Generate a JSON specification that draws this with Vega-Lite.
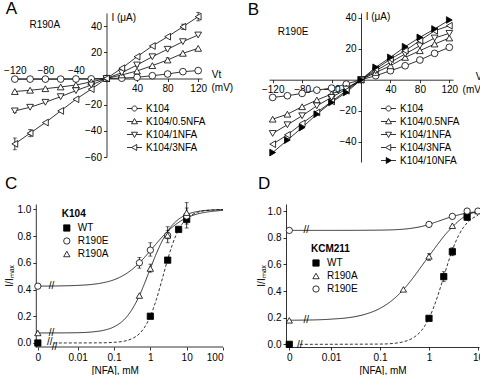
{
"$schema":"https://vega.github.io/schema/vega-lite/v6.json",
"background":"white",
"padding":{"left":3,"top":0,"right":0,"bottom":0},
"config":{"view":{"stroke":null},"font":"Liberation Sans",
"axis":{"labelFont":"Liberation Sans","labelFontSize":10,"labelColor":"black","domainColor":"black","tickColor":"black","grid":false,"tickSize":3,"domainWidth":0.8,"tickWidth":0.8,"titleFont":"Liberation Sans","titleFontSize":10,"titleFontWeight":"normal","titleColor":"black","labelPadding":2},
"legend":{"labelFont":"Liberation Sans","labelFontSize":10,"labelColor":"black","titleFont":"Liberation Sans","titleColor":"black"},
"text":{"font":"Liberation Sans","color":"black"}},
"datasets":{
"ivA":[
{"V":-120,"I":-0.5,"s":"K104"},{"V":-100,"I":-0.5,"s":"K104"},{"V":-80,"I":-0.5,"s":"K104"},{"V":-60,"I":-0.5,"s":"K104"},{"V":-40,"I":-0.4,"s":"K104"},{"V":-20,"I":-0.3,"s":"K104"},{"V":0,"I":0,"s":"K104"},{"V":20,"I":0.2,"s":"K104"},{"V":40,"I":0.9,"s":"K104"},{"V":60,"I":2.1,"s":"K104"},{"V":80,"I":3.4,"s":"K104"},{"V":100,"I":5.2,"s":"K104"},{"V":120,"I":6.0,"s":"K104"},
{"V":-120,"I":-10,"s":"K104/0.5NFA"},{"V":-100,"I":-9,"s":"K104/0.5NFA"},{"V":-80,"I":-7.8,"s":"K104/0.5NFA"},{"V":-60,"I":-6.5,"s":"K104/0.5NFA"},{"V":-40,"I":-5,"s":"K104/0.5NFA"},{"V":-20,"I":-2.6,"s":"K104/0.5NFA"},{"V":0,"I":0,"s":"K104/0.5NFA"},{"V":20,"I":2.7,"s":"K104/0.5NFA"},{"V":40,"I":5.7,"s":"K104/0.5NFA"},{"V":60,"I":9.8,"s":"K104/0.5NFA"},{"V":80,"I":14.1,"s":"K104/0.5NFA"},{"V":100,"I":19.2,"s":"K104/0.5NFA"},{"V":120,"I":23,"s":"K104/0.5NFA"},
{"V":-120,"I":-24.8,"s":"K104/1NFA"},{"V":-100,"I":-22,"s":"K104/1NFA"},{"V":-80,"I":-18.2,"s":"K104/1NFA"},{"V":-60,"I":-13.9,"s":"K104/1NFA"},{"V":-40,"I":-9.3,"s":"K104/1NFA"},{"V":-20,"I":-5,"s":"K104/1NFA"},{"V":0,"I":0,"s":"K104/1NFA"},{"V":20,"I":4.4,"s":"K104/1NFA"},{"V":40,"I":10.3,"s":"K104/1NFA"},{"V":60,"I":16.6,"s":"K104/1NFA"},{"V":80,"I":22.3,"s":"K104/1NFA"},{"V":100,"I":28.1,"s":"K104/1NFA"},{"V":120,"I":33.2,"s":"K104/1NFA"},
{"V":-120,"I":-50,"s":"K104/3NFA"},{"V":-100,"I":-41.8,"s":"K104/3NFA"},{"V":-80,"I":-33.7,"s":"K104/3NFA"},{"V":-60,"I":-24.8,"s":"K104/3NFA"},{"V":-40,"I":-15.9,"s":"K104/3NFA"},{"V":-20,"I":-8.2,"s":"K104/3NFA"},{"V":0,"I":0,"s":"K104/3NFA"},{"V":20,"I":7.8,"s":"K104/3NFA"},{"V":40,"I":16.6,"s":"K104/3NFA"},{"V":60,"I":24.8,"s":"K104/3NFA"},{"V":80,"I":31.9,"s":"K104/3NFA"},{"V":100,"I":39.5,"s":"K104/3NFA"},{"V":120,"I":47.2,"s":"K104/3NFA"}],
"errA":[{"V":-120,"lo":-54.5,"hi":-45.5},{"V":-100,"lo":-44.5,"hi":-39},{"V":100,"lo":37.5,"hi":41.5},{"V":120,"lo":44,"hi":50.5},{"V":-120,"lo":-26,"hi":-23.5},{"V":40,"lo":9,"hi":11.8},{"V":80,"lo":12.5,"hi":15.7}],
"ivB":[
{"V":-120,"I":-11.4,"s":"K104"},{"V":-100,"I":-10.3,"s":"K104"},{"V":-80,"I":-8.8,"s":"K104"},{"V":-60,"I":-6.7,"s":"K104"},{"V":-40,"I":-5.4,"s":"K104"},{"V":-20,"I":-2.8,"s":"K104"},{"V":0,"I":0,"s":"K104"},{"V":20,"I":2.6,"s":"K104"},{"V":40,"I":5.8,"s":"K104"},{"V":60,"I":9,"s":"K104"},{"V":80,"I":12.7,"s":"K104"},{"V":100,"I":17,"s":"K104"},{"V":120,"I":20.9,"s":"K104"},
{"V":-120,"I":-25.4,"s":"K104/0.5NFA"},{"V":-100,"I":-22.2,"s":"K104/0.5NFA"},{"V":-80,"I":-17.4,"s":"K104/0.5NFA"},{"V":-60,"I":-13.1,"s":"K104/0.5NFA"},{"V":-40,"I":-9.2,"s":"K104/0.5NFA"},{"V":-20,"I":-5.4,"s":"K104/0.5NFA"},{"V":0,"I":0,"s":"K104/0.5NFA"},{"V":20,"I":4.7,"s":"K104/0.5NFA"},{"V":40,"I":9,"s":"K104/0.5NFA"},{"V":60,"I":14.4,"s":"K104/0.5NFA"},{"V":80,"I":18.7,"s":"K104/0.5NFA"},{"V":100,"I":23,"s":"K104/0.5NFA"},{"V":120,"I":26.9,"s":"K104/0.5NFA"},
{"V":-120,"I":-34.6,"s":"K104/1NFA"},{"V":-100,"I":-29,"s":"K104/1NFA"},{"V":-80,"I":-23.2,"s":"K104/1NFA"},{"V":-60,"I":-16.8,"s":"K104/1NFA"},{"V":-40,"I":-11.4,"s":"K104/1NFA"},{"V":-20,"I":-6,"s":"K104/1NFA"},{"V":0,"I":0,"s":"K104/1NFA"},{"V":20,"I":5.8,"s":"K104/1NFA"},{"V":40,"I":11.2,"s":"K104/1NFA"},{"V":60,"I":16.6,"s":"K104/1NFA"},{"V":80,"I":21.9,"s":"K104/1NFA"},{"V":100,"I":26.9,"s":"K104/1NFA"},{"V":120,"I":29.9,"s":"K104/1NFA"},
{"V":-120,"I":-41.5,"s":"K104/3NFA"},{"V":-100,"I":-35.5,"s":"K104/3NFA"},{"V":-80,"I":-28.2,"s":"K104/3NFA"},{"V":-60,"I":-21.1,"s":"K104/3NFA"},{"V":-40,"I":-14,"s":"K104/3NFA"},{"V":-20,"I":-7.1,"s":"K104/3NFA"},{"V":0,"I":0,"s":"K104/3NFA"},{"V":20,"I":6.9,"s":"K104/3NFA"},{"V":40,"I":13.3,"s":"K104/3NFA"},{"V":60,"I":18.7,"s":"K104/3NFA"},{"V":80,"I":25.2,"s":"K104/3NFA"},{"V":100,"I":31.6,"s":"K104/3NFA"},{"V":120,"I":34.8,"s":"K104/3NFA"},
{"V":-120,"I":-46.9,"s":"K104/10NFA"},{"V":-100,"I":-38.9,"s":"K104/10NFA"},{"V":-80,"I":-30.8,"s":"K104/10NFA"},{"V":-60,"I":-22.2,"s":"K104/10NFA"},{"V":-40,"I":-14.6,"s":"K104/10NFA"},{"V":-20,"I":-8.2,"s":"K104/10NFA"},{"V":0,"I":0,"s":"K104/10NFA"},{"V":20,"I":8,"s":"K104/10NFA"},{"V":40,"I":14.4,"s":"K104/10NFA"},{"V":60,"I":21.3,"s":"K104/10NFA"},{"V":80,"I":27.3,"s":"K104/10NFA"},{"V":100,"I":32.7,"s":"K104/10NFA"},{"V":120,"I":38.5,"s":"K104/10NFA"}],
"ptC":[{"c":0.0008,"f":0,"s":"WT"},{"c":1,"f":0.2,"s":"WT"},{"c":3,"f":0.62,"s":"WT"},{"c":6,"f":0.85,"s":"WT"},{"c":10,"f":0.925,"s":"WT"},
{"c":0.0008,"f":0.425,"s":"R190E"},{"c":0.5,"f":0.6,"s":"R190E"},{"c":1,"f":0.695,"s":"R190E"},{"c":3,"f":0.805,"s":"R190E"},{"c":10,"f":0.95,"s":"R190E"},
{"c":0.0008,"f":0.075,"s":"R190A"},{"c":0.5,"f":0.355,"s":"R190A"},{"c":1,"f":0.557,"s":"R190A"},{"c":3,"f":0.805,"s":"R190A"},{"c":10,"f":0.975,"s":"R190A"}],
"errC":[{"c":0.5,"lo":0.56,"hi":0.64},{"c":1,"lo":0.65,"hi":0.75},{"c":3,"lo":0.75,"hi":0.87},{"c":10,"lo":0.86,"hi":1.05},{"c":1,"lo":0.53,"hi":0.59},{"c":3,"lo":0.78,"hi":0.84},{"c":10,"lo":0.94,"hi":1.01},{"c":10,"lo":0.89,"hi":0.96}],
"fitC":[
{"c":0.0022,"f":0,"s":"WT"},{"c":0.05,"f":0.0014,"s":"WT"},{"c":0.1,"f":0.005,"s":"WT"},{"c":0.2,"f":0.015,"s":"WT"},{"c":0.3,"f":0.03,"s":"WT"},{"c":0.5,"f":0.07,"s":"WT"},{"c":0.7,"f":0.119,"s":"WT"},{"c":1,"f":0.2,"s":"WT"},{"c":1.5,"f":0.335,"s":"WT"},{"c":2,"f":0.453,"s":"WT"},{"c":3,"f":0.625,"s":"WT"},{"c":4,"f":0.733,"s":"WT"},{"c":5,"f":0.802,"s":"WT"},{"c":7,"f":0.879,"s":"WT"},{"c":10,"f":0.931,"s":"WT"},{"c":15,"f":0.964,"s":"WT"},{"c":20,"f":0.978,"s":"WT"},{"c":30,"f":0.989,"s":"WT"},{"c":50,"f":0.995,"s":"WT"},{"c":100,"f":0.999,"s":"WT"},
{"c":0.0008,"f":0.4255,"s":"R190E"},{"c":0.003,"f":0.427,"s":"R190E"},{"c":0.01,"f":0.431,"s":"R190E"},{"c":0.03,"f":0.441,"s":"R190E"},{"c":0.05,"f":0.451,"s":"R190E"},{"c":0.1,"f":0.473,"s":"R190E"},{"c":0.2,"f":0.513,"s":"R190E"},{"c":0.3,"f":0.546,"s":"R190E"},{"c":0.5,"f":0.6,"s":"R190E"},{"c":0.7,"f":0.642,"s":"R190E"},{"c":1,"f":0.691,"s":"R190E"},{"c":1.5,"f":0.747,"s":"R190E"},{"c":2,"f":0.786,"s":"R190E"},{"c":3,"f":0.836,"s":"R190E"},{"c":5,"f":0.887,"s":"R190E"},{"c":7,"f":0.914,"s":"R190E"},{"c":10,"f":0.936,"s":"R190E"},{"c":20,"f":0.966,"s":"R190E"},{"c":30,"f":0.976,"s":"R190E"},{"c":50,"f":0.985,"s":"R190E"},{"c":100,"f":0.992,"s":"R190E"},
{"c":0.0008,"f":0.075,"s":"R190A"},{"c":0.003,"f":0.0755,"s":"R190A"},{"c":0.01,"f":0.077,"s":"R190A"},{"c":0.03,"f":0.085,"s":"R190A"},{"c":0.05,"f":0.094,"s":"R190A"},{"c":0.1,"f":0.121,"s":"R190A"},{"c":0.2,"f":0.181,"s":"R190A"},{"c":0.3,"f":0.243,"s":"R190A"},{"c":0.5,"f":0.355,"s":"R190A"},{"c":0.7,"f":0.449,"s":"R190A"},{"c":1,"f":0.557,"s":"R190A"},{"c":1.5,"f":0.676,"s":"R190A"},{"c":2,"f":0.75,"s":"R190A"},{"c":3,"f":0.836,"s":"R190A"},{"c":5,"f":0.908,"s":"R190A"},{"c":7,"f":0.939,"s":"R190A"},{"c":10,"f":0.961,"s":"R190A"},{"c":20,"f":0.984,"s":"R190A"},{"c":30,"f":0.991,"s":"R190A"},{"c":50,"f":0.995,"s":"R190A"},{"c":100,"f":0.998,"s":"R190A"}],
"ptD":[{"c":0.0014,"f":0,"s":"WT"},{"c":1,"f":0.195,"s":"WT"},{"c":2,"f":0.508,"s":"WT"},{"c":3,"f":0.695,"s":"WT"},{"c":6,"f":0.955,"s":"WT"},
{"c":0.0014,"f":0.18,"s":"R190A"},{"c":0.3,"f":0.4125,"s":"R190A"},{"c":1,"f":0.66,"s":"R190A"},{"c":3,"f":0.89,"s":"R190A"},{"c":6,"f":1.0,"s":"R190A"},{"c":10,"f":1.0,"s":"R190A"},
{"c":0.0014,"f":0.855,"s":"R190E"},{"c":1,"f":0.9,"s":"R190E"},{"c":3,"f":0.96,"s":"R190E"},{"c":6,"f":1.0,"s":"R190E"},{"c":10,"f":1.0,"s":"R190E"}],
"errD":[{"c":2,"lo":0.47,"hi":0.545},{"c":3,"lo":0.665,"hi":0.725},{"c":6,"lo":0.93,"hi":0.98},{"c":1,"lo":0.63,"hi":0.68}],
"fitD":[
{"c":0.0023,"f":0,"s":"WT"},{"c":0.1,"f":0.002,"s":"WT"},{"c":0.2,"f":0.008,"s":"WT"},{"c":0.3,"f":0.019,"s":"WT"},{"c":0.5,"f":0.054,"s":"WT"},{"c":0.7,"f":0.103,"s":"WT"},{"c":1,"f":0.195,"s":"WT"},{"c":1.5,"f":0.361,"s":"WT"},{"c":2,"f":0.508,"s":"WT"},{"c":3,"f":0.707,"s":"WT"},{"c":4,"f":0.815,"s":"WT"},{"c":5,"f":0.875,"s":"WT"},{"c":6,"f":0.911,"s":"WT"},{"c":8,"f":0.949,"s":"WT"},{"c":10,"f":0.968,"s":"WT"},
{"c":0.0014,"f":0.181,"s":"R190A"},{"c":0.003,"f":0.182,"s":"R190A"},{"c":0.01,"f":0.189,"s":"R190A"},{"c":0.03,"f":0.207,"s":"R190A"},{"c":0.05,"f":0.226,"s":"R190A"},{"c":0.1,"f":0.27,"s":"R190A"},{"c":0.2,"f":0.347,"s":"R190A"},{"c":0.3,"f":0.411,"s":"R190A"},{"c":0.5,"f":0.511,"s":"R190A"},{"c":0.7,"f":0.585,"s":"R190A"},{"c":1,"f":0.662,"s":"R190A"},{"c":1.5,"f":0.75,"s":"R190A"},{"c":2,"f":0.81,"s":"R190A"},{"c":3,"f":0.88,"s":"R190A"},{"c":4,"f":0.925,"s":"R190A"},{"c":6,"f":0.97,"s":"R190A"},{"c":10,"f":0.995,"s":"R190A"},
{"c":0.0014,"f":0.855,"s":"R190E"},{"c":0.01,"f":0.855,"s":"R190E"},{"c":0.1,"f":0.857,"s":"R190E"},{"c":0.2,"f":0.86,"s":"R190E"},{"c":0.3,"f":0.864,"s":"R190E"},{"c":0.5,"f":0.874,"s":"R190E"},{"c":0.7,"f":0.884,"s":"R190E"},{"c":1,"f":0.9,"s":"R190E"},{"c":1.5,"f":0.922,"s":"R190E"},{"c":2,"f":0.938,"s":"R190E"},{"c":3,"f":0.959,"s":"R190E"},{"c":4,"f":0.971,"s":"R190E"},{"c":6,"f":0.985,"s":"R190E"},{"c":10,"f":0.995,"s":"R190E"}]
},
"spacing":8,
"columns":1,
"align":"none",
"resolve":{"scale":{"shape":"independent","fill":"independent","strokeDash":"independent"},"legend":{"shape":"independent","fill":"independent","strokeDash":"independent"}},
"concat":[
{"spacing":13,
"resolve":{"scale":{"shape":"independent","fill":"independent"},"legend":{"shape":"independent","fill":"independent"}},
"hconcat":[
{"width":191,"height":144,
"layer":[
{"data":{"name":"ivA"},"mark":{"type":"line","color":"black","strokeWidth":0.8},
"encoding":{"x":{"field":"V","type":"quantitative","scale":{"domain":[-125,125],"nice":false,"zero":false},"axis":{"values":[-120,-80,-40,40,80,120],"offset":-78.5,"title":null,"labelPadding":{"condition":{"test":"datum.value < 0","value":-16.5},"value":2}}},
"y":{"field":"I","type":"quantitative","scale":{"domain":[-60,50],"nice":false,"zero":false},"axis":{"values":[-60,-40,-20,20,40],"offset":-95.5,"title":null,"minExtent":0,"maxExtent":0}},
"detail":{"field":"s"}}},
{"data":{"name":"errA"},"mark":{"type":"errorbar","color":"black","thickness":0.8,"ticks":{"size":4,"thickness":0.8,"color":"black"}},
"encoding":{"x":{"field":"V","type":"quantitative","scale":{"domain":[-125,125],"nice":false,"zero":false},"axis":{"values":[-120,-80,-40,40,80,120],"offset":-78.5,"title":null,"labelPadding":{"condition":{"test":"datum.value < 0","value":-16.5},"value":2}}},"y":{"field":"lo","type":"quantitative","scale":{"domain":[-60,50],"nice":false,"zero":false},"axis":{"values":[-60,-40,-20,20,40],"offset":-95.5,"title":null,"minExtent":0,"maxExtent":0}},"y2":{"field":"hi"}}},
{"data":{"name":"ivA"},"mark":{"type":"point","filled":true,"fill":"white","stroke":"black","strokeWidth":0.8,"size":45,"opacity":1},
"encoding":{"x":{"field":"V","type":"quantitative","scale":{"domain":[-125,125],"nice":false,"zero":false},"axis":{"values":[-120,-80,-40,40,80,120],"offset":-78.5,"title":null,"labelPadding":{"condition":{"test":"datum.value < 0","value":-16.5},"value":2}}},"y":{"field":"I","type":"quantitative","scale":{"domain":[-60,50],"nice":false,"zero":false},"axis":{"values":[-60,-40,-20,20,40],"offset":-95.5,"title":null,"minExtent":0,"maxExtent":0}},
"shape":{"field":"s","type":"nominal","scale":{"domain":["K104","K104/0.5NFA","K104/1NFA","K104/3NFA"],"range":["circle","triangle-up","triangle-down","triangle-left"]},"legend":null}}},
{"data":{"name":"ivA"},"mark":{"type":"point","filled":true,"stroke":"black","strokeWidth":0.8,"opacity":0},
"encoding":{"x":{"field":"V","type":"quantitative","scale":{"domain":[-125,125],"nice":false,"zero":false},"axis":{"values":[-120,-80,-40,40,80,120],"offset":-78.5,"title":null,"labelPadding":{"condition":{"test":"datum.value < 0","value":-16.5},"value":2}}},"y":{"field":"I","type":"quantitative","scale":{"domain":[-60,50],"nice":false,"zero":false},"axis":{"values":[-60,-40,-20,20,40],"offset":-95.5,"title":null,"minExtent":0,"maxExtent":0}},
"stroke":{"value":"black"},
"shape":{"field":"s","type":"nominal","scale":{"domain":["K104","K104/0.5NFA","K104/1NFA","K104/3NFA"],"range":["M-1.25,0H-0.42M0.42,0H1.25M-0.42,0A0.42,0.42,0,1,1,0.42,0A0.42,0.42,0,1,1,-0.42,0Z","M-1.25,0H-0.28M0.28,0H1.25M0,-0.5L0.5,0.38L-0.5,0.38Z","M-1.25,0H-0.28M0.28,0H1.25M0,0.5L0.5,-0.38L-0.5,-0.38Z","M-1.25,0H-0.5M0.38,0H1.25M-0.5,0L0.38,-0.5L0.38,0.5Z"]},
"legend":{"orient":"none","legendX":117,"legendY":89,"title":null,"symbolSize":144,"symbolStrokeColor":"black","symbolStrokeWidth":0.8,"symbolOpacity":1,"labelFontSize":10,"labelOffset":5,"rowPadding":1,"padding":0,
"encode":{"symbols":{"update":{"stroke":{"value":"black"},"strokeWidth":{"value":0.8},"opacity":{"value":1},"strokeOpacity":{"value":1}}}}}},
"fill":{"field":"s","type":"nominal","scale":{"domain":["K104","K104/0.5NFA","K104/1NFA","K104/3NFA"],"range":["white","white","white","white"]},
"legend":{"orient":"none","legendX":117,"legendY":89,"title":null,"symbolSize":144,"symbolStrokeColor":"black","symbolStrokeWidth":0.8,"symbolOpacity":1,"labelFontSize":10,"labelOffset":5,"rowPadding":1,"padding":0,
"encode":{"symbols":{"update":{"stroke":{"value":"black"},"strokeWidth":{"value":0.8},"opacity":{"value":1},"strokeOpacity":{"value":1}}}}}}}},
{"data":{"values":[{}]},"mark":{"type":"text","text":"A","fontSize":17,"align":"left","baseline":"middle"},"encoding":{"x":{"datum":-132,"type":"quantitative","scale":{"domain":[-125,125],"nice":false,"zero":false},"axis":{"values":[-120,-80,-40,40,80,120],"offset":-78.5,"title":null,"labelPadding":{"condition":{"test":"datum.value < 0","value":-16.5},"value":2}}},"y":{"datum":53,"type":"quantitative","scale":{"domain":[-60,50],"nice":false,"zero":false},"axis":{"values":[-60,-40,-20,20,40],"offset":-95.5,"title":null,"minExtent":0,"maxExtent":0}}}},
{"data":{"values":[{}]},"mark":{"type":"text","text":"R190A","fontSize":10,"align":"left","baseline":"middle"},"encoding":{"x":{"datum":-100.8,"type":"quantitative","scale":{"domain":[-125,125],"nice":false,"zero":false},"axis":{"values":[-120,-80,-40,40,80,120],"offset":-78.5,"title":null,"labelPadding":{"condition":{"test":"datum.value < 0","value":-16.5},"value":2}}},"y":{"datum":40.8,"type":"quantitative","scale":{"domain":[-60,50],"nice":false,"zero":false},"axis":{"values":[-60,-40,-20,20,40],"offset":-95.5,"title":null,"minExtent":0,"maxExtent":0}}}},
{"data":{"values":[{}]},"mark":{"type":"text","text":"I (μA)","fontSize":10,"align":"left","baseline":"middle"},"encoding":{"x":{"datum":6.5,"type":"quantitative","scale":{"domain":[-125,125],"nice":false,"zero":false},"axis":{"values":[-120,-80,-40,40,80,120],"offset":-78.5,"title":null,"labelPadding":{"condition":{"test":"datum.value < 0","value":-16.5},"value":2}}},"y":{"datum":45.8,"type":"quantitative","scale":{"domain":[-60,50],"nice":false,"zero":false},"axis":{"values":[-60,-40,-20,20,40],"offset":-95.5,"title":null,"minExtent":0,"maxExtent":0}}}},
{"data":{"values":[{}]},"mark":{"type":"text","text":"Vt","fontSize":10,"align":"center","baseline":"middle"},"encoding":{"x":{"datum":144,"type":"quantitative","scale":{"domain":[-125,125],"nice":false,"zero":false},"axis":{"values":[-120,-80,-40,40,80,120],"offset":-78.5,"title":null,"labelPadding":{"condition":{"test":"datum.value < 0","value":-16.5},"value":2}}},"y":{"datum":2.5,"type":"quantitative","scale":{"domain":[-60,50],"nice":false,"zero":false},"axis":{"values":[-60,-40,-20,20,40],"offset":-95.5,"title":null,"minExtent":0,"maxExtent":0}}}},
{"data":{"values":[{}]},"mark":{"type":"text","text":"(mV)","fontSize":10,"align":"left","baseline":"middle"},"encoding":{"x":{"datum":137.4,"type":"quantitative","scale":{"domain":[-125,125],"nice":false,"zero":false},"axis":{"values":[-120,-80,-40,40,80,120],"offset":-78.5,"title":null,"labelPadding":{"condition":{"test":"datum.value < 0","value":-16.5},"value":2}}},"y":{"datum":-7.3,"type":"quantitative","scale":{"domain":[-60,50],"nice":false,"zero":false},"axis":{"values":[-60,-40,-20,20,40],"offset":-95.5,"title":null,"minExtent":0,"maxExtent":0}}}}
],
"resolve":{"scale":{"shape":"independent","fill":"independent"}}},
{"width":184,"height":149,
"layer":[
{"data":{"name":"ivB"},"mark":{"type":"line","color":"black","strokeWidth":0.8},
"encoding":{"x":{"field":"V","type":"quantitative","scale":{"domain":[-125,125],"nice":false,"zero":false},"axis":{"values":[-120,-80,-40,40,80,120],"offset":-82.3,"title":null}},
"y":{"field":"I","type":"quantitative","scale":{"domain":[-53,43],"nice":false,"zero":false},"axis":{"values":[-40,-20,20,40],"offset":-92,"title":null,"minExtent":0,"maxExtent":0}},
"detail":{"field":"s"}}},
{"data":{"name":"ivB"},"mark":{"type":"point","filled":true,"stroke":"black","strokeWidth":0.8,"size":45,"opacity":1},
"encoding":{"x":{"field":"V","type":"quantitative","scale":{"domain":[-125,125],"nice":false,"zero":false},"axis":{"values":[-120,-80,-40,40,80,120],"offset":-82.3,"title":null}},"y":{"field":"I","type":"quantitative","scale":{"domain":[-53,43],"nice":false,"zero":false},"axis":{"values":[-40,-20,20,40],"offset":-92,"title":null,"minExtent":0,"maxExtent":0}},
"shape":{"field":"s","type":"nominal","scale":{"domain":["K104","K104/0.5NFA","K104/1NFA","K104/3NFA","K104/10NFA"],"range":["circle","triangle-up","triangle-down","triangle-left","triangle-right"]},"legend":null},
"fill":{"field":"s","type":"nominal","scale":{"domain":["K104","K104/0.5NFA","K104/1NFA","K104/3NFA","K104/10NFA"],"range":["white","white","white","white","black"]},"legend":null}}},
{"data":{"name":"ivB"},"mark":{"type":"point","filled":true,"stroke":"black","strokeWidth":0.8,"opacity":0},
"encoding":{"x":{"field":"V","type":"quantitative","scale":{"domain":[-125,125],"nice":false,"zero":false},"axis":{"values":[-120,-80,-40,40,80,120],"offset":-82.3,"title":null}},"y":{"field":"I","type":"quantitative","scale":{"domain":[-53,43],"nice":false,"zero":false},"axis":{"values":[-40,-20,20,40],"offset":-92,"title":null,"minExtent":0,"maxExtent":0}},
"stroke":{"value":"black"},
"shape":{"field":"s","type":"nominal","scale":{"domain":["K104","K104/0.5NFA","K104/1NFA","K104/3NFA","K104/10NFA"],"range":["M-1.25,0H-0.42M0.42,0H1.25M-0.42,0A0.42,0.42,0,1,1,0.42,0A0.42,0.42,0,1,1,-0.42,0Z","M-1.25,0H-0.28M0.28,0H1.25M0,-0.5L0.5,0.38L-0.5,0.38Z","M-1.25,0H-0.28M0.28,0H1.25M0,0.5L0.5,-0.38L-0.5,-0.38Z","M-1.25,0H-0.5M0.38,0H1.25M-0.5,0L0.38,-0.5L0.38,0.5Z","M-1.25,0H-0.38M0.5,0H1.25M0.5,0L-0.38,-0.5L-0.38,0.5Z"]},
"legend":{"orient":"none","legendX":113,"legendY":89,"title":null,"symbolSize":144,"symbolStrokeColor":"black","symbolStrokeWidth":0.8,"symbolOpacity":1,"labelFontSize":10,"labelOffset":5,"rowPadding":1,"padding":0,
"encode":{"symbols":{"update":{"stroke":{"value":"black"},"strokeWidth":{"value":0.8},"opacity":{"value":1},"strokeOpacity":{"value":1}}}}}},
"fill":{"field":"s","type":"nominal","scale":{"domain":["K104","K104/0.5NFA","K104/1NFA","K104/3NFA","K104/10NFA"],"range":["white","white","white","white","black"]},
"legend":{"orient":"none","legendX":113,"legendY":89,"title":null,"symbolSize":144,"symbolStrokeColor":"black","symbolStrokeWidth":0.8,"symbolOpacity":1,"labelFontSize":10,"labelOffset":5,"rowPadding":1,"padding":0,
"encode":{"symbols":{"update":{"stroke":{"value":"black"},"strokeWidth":{"value":0.8},"opacity":{"value":1},"strokeOpacity":{"value":1}}}}}}}},
{"data":{"values":[{}]},"mark":{"type":"text","text":"B","fontSize":17,"align":"left","baseline":"middle"},"encoding":{"x":{"datum":-154,"type":"quantitative","scale":{"domain":[-125,125],"nice":false,"zero":false},"axis":{"values":[-120,-80,-40,40,80,120],"offset":-82.3,"title":null}},"y":{"datum":44.9,"type":"quantitative","scale":{"domain":[-53,43],"nice":false,"zero":false},"axis":{"values":[-40,-20,20,40],"offset":-92,"title":null,"minExtent":0,"maxExtent":0}}}},
{"data":{"values":[{}]},"mark":{"type":"text","text":"R190E","fontSize":10,"align":"left","baseline":"middle"},"encoding":{"x":{"datum":-113,"type":"quantitative","scale":{"domain":[-125,125],"nice":false,"zero":false},"axis":{"values":[-120,-80,-40,40,80,120],"offset":-82.3,"title":null}},"y":{"datum":30.9,"type":"quantitative","scale":{"domain":[-53,43],"nice":false,"zero":false},"axis":{"values":[-40,-20,20,40],"offset":-92,"title":null,"minExtent":0,"maxExtent":0}}}},
{"data":{"values":[{}]},"mark":{"type":"text","text":"I (μA)","fontSize":10,"align":"left","baseline":"middle"},"encoding":{"x":{"datum":6.4,"type":"quantitative","scale":{"domain":[-125,125],"nice":false,"zero":false},"axis":{"values":[-120,-80,-40,40,80,120],"offset":-82.3,"title":null}},"y":{"datum":40.6,"type":"quantitative","scale":{"domain":[-53,43],"nice":false,"zero":false},"axis":{"values":[-40,-20,20,40],"offset":-92,"title":null,"minExtent":0,"maxExtent":0}}}},
{"data":{"values":[{}]},"mark":{"type":"text","text":"Vt","fontSize":10,"align":"left","baseline":"middle"},"encoding":{"x":{"datum":156,"type":"quantitative","scale":{"domain":[-125,125],"nice":false,"zero":false},"axis":{"values":[-120,-80,-40,40,80,120],"offset":-82.3,"title":null}},"y":{"datum":2,"type":"quantitative","scale":{"domain":[-53,43],"nice":false,"zero":false},"axis":{"values":[-40,-20,20,40],"offset":-92,"title":null,"minExtent":0,"maxExtent":0}}}},
{"data":{"values":[{}]},"mark":{"type":"text","text":"(mV)","fontSize":10,"align":"left","baseline":"middle"},"encoding":{"x":{"datum":138,"type":"quantitative","scale":{"domain":[-125,125],"nice":false,"zero":false},"axis":{"values":[-120,-80,-40,40,80,120],"offset":-82.3,"title":null}},"y":{"datum":-6.5,"type":"quantitative","scale":{"domain":[-53,43],"nice":false,"zero":false},"axis":{"values":[-40,-20,20,40],"offset":-92,"title":null,"minExtent":0,"maxExtent":0}}}}
],
"resolve":{"scale":{"shape":"independent","fill":"independent"}}}
]},
{"spacing":31,
"resolve":{"scale":{"shape":"independent","fill":"independent","strokeDash":"independent"},"legend":{"shape":"independent","fill":"independent","strokeDash":"independent"}},
"hconcat":[
{"width":212,"height":143,
"layer":[
{"data":{"values":[{}]},"mark":{"type":"rule","color":"black","strokeWidth":0.8},
"encoding":{"x":{"datum":0.0007,"type":"quantitative","scale":{"type":"log","domain":[0.000146,100],"nice":false},"axis":{"values":[0.0008,0.01,0.1,1,10,100],"format":"~g","labelExpr":"datum.value < 0.001 ? '0' : datum.label","title":"[NFA], mM","titleX":103.8,"titlePadding":3,"domain":false}},"x2":{"datum":100},
"y":{"datum":-0.03,"type":"quantitative","scale":{"domain":[-0.03,1.04],"nice":false,"zero":false},"axis":{"values":[0,0.2,0.4,0.6,0.8,1],"format":".1f","title":"I/Iₘₐₓ","titlePadding":2,"offset":-24.8}}}},
{"data":{"name":"fitC"},"mark":{"type":"line","color":"black","strokeWidth":0.8,"interpolate":"monotone"},
"encoding":{"x":{"field":"c","type":"quantitative","scale":{"type":"log","domain":[0.000146,100],"nice":false},"axis":{"values":[0.0008,0.01,0.1,1,10,100],"format":"~g","labelExpr":"datum.value < 0.001 ? '0' : datum.label","title":"[NFA], mM","titleX":103.8,"titlePadding":3,"domain":false}},
"y":{"field":"f","type":"quantitative","scale":{"domain":[-0.03,1.04],"nice":false,"zero":false},"axis":{"values":[0,0.2,0.4,0.6,0.8,1],"format":".1f","title":"I/Iₘₐₓ","titlePadding":2,"offset":-24.8}},
"detail":{"field":"s"},
"strokeDash":{"field":"s","type":"nominal","scale":{"domain":["WT","R190E","R190A"],"range":[[3,2],[1,0],[1,0]]},"legend":null}}},
{"data":{"name":"errC"},"mark":{"type":"errorbar","color":"black","thickness":0.8,"ticks":{"size":4,"thickness":0.8,"color":"black"}},
"encoding":{"x":{"field":"c","type":"quantitative","scale":{"type":"log","domain":[0.000146,100],"nice":false},"axis":{"values":[0.0008,0.01,0.1,1,10,100],"format":"~g","labelExpr":"datum.value < 0.001 ? '0' : datum.label","title":"[NFA], mM","titleX":103.8,"titlePadding":3,"domain":false}},"y":{"field":"lo","type":"quantitative","scale":{"domain":[-0.03,1.04],"nice":false,"zero":false},"axis":{"values":[0,0.2,0.4,0.6,0.8,1],"format":".1f","title":"I/Iₘₐₓ","titlePadding":2,"offset":-24.8}},"y2":{"field":"hi"}}},
{"data":{"name":"ptC"},"mark":{"type":"point","filled":true,"stroke":"black","strokeWidth":0.8,"size":40,"opacity":1},
"encoding":{"x":{"field":"c","type":"quantitative","scale":{"type":"log","domain":[0.000146,100],"nice":false},"axis":{"values":[0.0008,0.01,0.1,1,10,100],"format":"~g","labelExpr":"datum.value < 0.001 ? '0' : datum.label","title":"[NFA], mM","titleX":103.8,"titlePadding":3,"domain":false}},"y":{"field":"f","type":"quantitative","scale":{"domain":[-0.03,1.04],"nice":false,"zero":false},"axis":{"values":[0,0.2,0.4,0.6,0.8,1],"format":".1f","title":"I/Iₘₐₓ","titlePadding":2,"offset":-24.8}},
"shape":{"field":"s","type":"nominal","scale":{"domain":["WT","R190E","R190A"],"range":["square","circle","triangle-up"]},"legend":null},
"fill":{"field":"s","type":"nominal","scale":{"domain":["WT","R190E","R190A"],"range":["black","white","white"]},"legend":null}}},
{"data":{"name":"ptC"},"mark":{"type":"point","filled":true,"stroke":"black","strokeWidth":0.8,"opacity":0},
"encoding":{"x":{"field":"c","type":"quantitative","scale":{"type":"log","domain":[0.000146,100],"nice":false},"axis":{"values":[0.0008,0.01,0.1,1,10,100],"format":"~g","labelExpr":"datum.value < 0.001 ? '0' : datum.label","title":"[NFA], mM","titleX":103.8,"titlePadding":3,"domain":false}},"y":{"field":"f","type":"quantitative","scale":{"domain":[-0.03,1.04],"nice":false,"zero":false},"axis":{"values":[0,0.2,0.4,0.6,0.8,1],"format":".1f","title":"I/Iₘₐₓ","titlePadding":2,"offset":-24.8}},
"stroke":{"value":"black"},
"shape":{"field":"s","type":"nominal","scale":{"domain":["WT","R190E","R190A"],"range":["square","circle","triangle-up"]},
"legend":{"orient":"none","legendX":50.8,"legendY":5,"title":"K104","titleFontWeight":"bold","titleFontSize":10,"titlePadding":4,"symbolSize":40,"symbolStrokeColor":"black","symbolStrokeWidth":0.8,"symbolOpacity":1,"labelFontSize":10,"labelOffset":6,"rowPadding":3,"padding":0,"encode":{"symbols":{"update":{"stroke":{"value":"black"},"strokeWidth":{"value":0.8},"opacity":{"value":1},"strokeOpacity":{"value":1}}}}}},
"fill":{"field":"s","type":"nominal","scale":{"domain":["WT","R190E","R190A"],"range":["black","white","white"]},
"legend":{"orient":"none","legendX":50.8,"legendY":5,"title":"K104","titleFontWeight":"bold","titleFontSize":10,"titlePadding":4,"symbolSize":40,"symbolStrokeColor":"black","symbolStrokeWidth":0.8,"symbolOpacity":1,"labelFontSize":10,"labelOffset":6,"rowPadding":3,"padding":0,"encode":{"symbols":{"update":{"stroke":{"value":"black"},"strokeWidth":{"value":0.8},"opacity":{"value":1},"strokeOpacity":{"value":1}}}}}}}},
{"data":{"values":[{}]},"mark":{"type":"text","text":"C","fontSize":17,"align":"left","baseline":"middle"},"encoding":{"x":{"datum":0.0001,"type":"quantitative","scale":{"type":"log","domain":[0.000146,100],"nice":false},"axis":{"values":[0.0008,0.01,0.1,1,10,100],"format":"~g","labelExpr":"datum.value < 0.001 ? '0' : datum.label","title":"[NFA], mM","titleX":103.8,"titlePadding":3,"domain":false}},"y":{"datum":1.19,"type":"quantitative","scale":{"domain":[-0.03,1.04],"nice":false,"zero":false},"axis":{"values":[0,0.2,0.4,0.6,0.8,1],"format":".1f","title":"I/Iₘₐₓ","titlePadding":2,"offset":-24.8}}}},
{"data":{"values":[{}]},"mark":{"type":"text","text":"//","fontSize":10,"align":"center","baseline":"middle"},"encoding":{"x":{"datum":0.0019,"type":"quantitative","scale":{"type":"log","domain":[0.000146,100],"nice":false},"axis":{"values":[0.0008,0.01,0.1,1,10,100],"format":"~g","labelExpr":"datum.value < 0.001 ? '0' : datum.label","title":"[NFA], mM","titleX":103.8,"titlePadding":3,"domain":false}},"y":{"datum":0.425,"type":"quantitative","scale":{"domain":[-0.03,1.04],"nice":false,"zero":false},"axis":{"values":[0,0.2,0.4,0.6,0.8,1],"format":".1f","title":"I/Iₘₐₓ","titlePadding":2,"offset":-24.8}}}},
{"data":{"values":[{}]},"mark":{"type":"text","text":"//","fontSize":10,"align":"center","baseline":"middle"},"encoding":{"x":{"datum":0.0019,"type":"quantitative","scale":{"type":"log","domain":[0.000146,100],"nice":false},"axis":{"values":[0.0008,0.01,0.1,1,10,100],"format":"~g","labelExpr":"datum.value < 0.001 ? '0' : datum.label","title":"[NFA], mM","titleX":103.8,"titlePadding":3,"domain":false}},"y":{"datum":0.075,"type":"quantitative","scale":{"domain":[-0.03,1.04],"nice":false,"zero":false},"axis":{"values":[0,0.2,0.4,0.6,0.8,1],"format":".1f","title":"I/Iₘₐₓ","titlePadding":2,"offset":-24.8}}}},
{"data":{"values":[{}]},"mark":{"type":"text","text":"//","fontSize":10,"align":"center","baseline":"middle"},"encoding":{"x":{"datum":0.0017,"type":"quantitative","scale":{"type":"log","domain":[0.000146,100],"nice":false},"axis":{"values":[0.0008,0.01,0.1,1,10,100],"format":"~g","labelExpr":"datum.value < 0.001 ? '0' : datum.label","title":"[NFA], mM","titleX":103.8,"titlePadding":3,"domain":false}},"y":{"datum":0.005,"type":"quantitative","scale":{"domain":[-0.03,1.04],"nice":false,"zero":false},"axis":{"values":[0,0.2,0.4,0.6,0.8,1],"format":".1f","title":"I/Iₘₐₓ","titlePadding":2,"offset":-24.8}}}},
{"data":{"values":[{}]},"mark":{"type":"text","text":"//","fontSize":10,"align":"center","baseline":"middle"},"encoding":{"x":{"datum":0.0023,"type":"quantitative","scale":{"type":"log","domain":[0.000146,100],"nice":false},"axis":{"values":[0.0008,0.01,0.1,1,10,100],"format":"~g","labelExpr":"datum.value < 0.001 ? '0' : datum.label","title":"[NFA], mM","titleX":103.8,"titlePadding":3,"domain":false}},"y":{"datum":-0.03,"type":"quantitative","scale":{"domain":[-0.03,1.04],"nice":false,"zero":false},"axis":{"values":[0,0.2,0.4,0.6,0.8,1],"format":".1f","title":"I/Iₘₐₓ","titlePadding":2,"offset":-24.8}}}}
],
"resolve":{"scale":{"shape":"independent","fill":"independent"}}},
{"width":193,"height":143,
"layer":[
{"data":{"name":"fitD"},"mark":{"type":"line","color":"black","strokeWidth":0.8,"interpolate":"monotone"},
"encoding":{"x":{"field":"c","type":"quantitative","scale":{"type":"log","domain":[0.0012,10.5],"nice":false},"axis":{"values":[0.0014,0.01,0.1,1,10],"format":"~g","labelExpr":"datum.value < 0.005 ? '0' : datum.label","title":"[NFA], mM","titlePadding":3}},
"y":{"field":"f","type":"quantitative","scale":{"domain":[-0.02,1.053],"nice":false,"zero":false},"axis":{"values":[0,0.2,0.4,0.6,0.8,1],"format":".1f","title":"I/Iₘₐₓ","titlePadding":1}},
"detail":{"field":"s"},
"strokeDash":{"field":"s","type":"nominal","scale":{"domain":["WT","R190A","R190E"],"range":[[3,2],[1,0],[1,0]]},"legend":null}}},
{"data":{"name":"errD"},"mark":{"type":"errorbar","color":"black","thickness":0.8,"ticks":{"size":4,"thickness":0.8,"color":"black"}},
"encoding":{"x":{"field":"c","type":"quantitative","scale":{"type":"log","domain":[0.0012,10.5],"nice":false},"axis":{"values":[0.0014,0.01,0.1,1,10],"format":"~g","labelExpr":"datum.value < 0.005 ? '0' : datum.label","title":"[NFA], mM","titlePadding":3}},"y":{"field":"lo","type":"quantitative","scale":{"domain":[-0.02,1.053],"nice":false,"zero":false},"axis":{"values":[0,0.2,0.4,0.6,0.8,1],"format":".1f","title":"I/Iₘₐₓ","titlePadding":1}},"y2":{"field":"hi"}}},
{"data":{"name":"ptD"},"mark":{"type":"point","filled":true,"stroke":"black","strokeWidth":0.8,"size":40,"opacity":1},
"encoding":{"x":{"field":"c","type":"quantitative","scale":{"type":"log","domain":[0.0012,10.5],"nice":false},"axis":{"values":[0.0014,0.01,0.1,1,10],"format":"~g","labelExpr":"datum.value < 0.005 ? '0' : datum.label","title":"[NFA], mM","titlePadding":3}},"y":{"field":"f","type":"quantitative","scale":{"domain":[-0.02,1.053],"nice":false,"zero":false},"axis":{"values":[0,0.2,0.4,0.6,0.8,1],"format":".1f","title":"I/Iₘₐₓ","titlePadding":1}},
"shape":{"field":"s","type":"nominal","scale":{"domain":["WT","R190A","R190E"],"range":["square","triangle-up","circle"]},"legend":null},
"fill":{"field":"s","type":"nominal","scale":{"domain":["WT","R190A","R190E"],"range":["black","white","white"]},"legend":null}}},
{"data":{"name":"ptD"},"mark":{"type":"point","filled":true,"stroke":"black","strokeWidth":0.8,"opacity":0},
"encoding":{"x":{"field":"c","type":"quantitative","scale":{"type":"log","domain":[0.0012,10.5],"nice":false},"axis":{"values":[0.0014,0.01,0.1,1,10],"format":"~g","labelExpr":"datum.value < 0.005 ? '0' : datum.label","title":"[NFA], mM","titlePadding":3}},"y":{"field":"f","type":"quantitative","scale":{"domain":[-0.02,1.053],"nice":false,"zero":false},"axis":{"values":[0,0.2,0.4,0.6,0.8,1],"format":".1f","title":"I/Iₘₐₓ","titlePadding":1}},
"stroke":{"value":"black"},
"shape":{"field":"s","type":"nominal","scale":{"domain":["WT","R190A","R190E"],"range":["square","triangle-up","circle"]},
"legend":{"orient":"none","legendX":25,"legendY":40,"title":"KCM211","titleFontWeight":"bold","titleFontSize":10,"titlePadding":4,"symbolSize":40,"symbolStrokeColor":"black","symbolStrokeWidth":0.8,"symbolOpacity":1,"labelFontSize":10,"labelOffset":6,"rowPadding":3,"padding":0,"encode":{"symbols":{"update":{"stroke":{"value":"black"},"strokeWidth":{"value":0.8},"opacity":{"value":1},"strokeOpacity":{"value":1}}}}}},
"fill":{"field":"s","type":"nominal","scale":{"domain":["WT","R190A","R190E"],"range":["black","white","white"]},
"legend":{"orient":"none","legendX":25,"legendY":40,"title":"KCM211","titleFontWeight":"bold","titleFontSize":10,"titlePadding":4,"symbolSize":40,"symbolStrokeColor":"black","symbolStrokeWidth":0.8,"symbolOpacity":1,"labelFontSize":10,"labelOffset":6,"rowPadding":3,"padding":0,"encode":{"symbols":{"update":{"stroke":{"value":"black"},"strokeWidth":{"value":0.8},"opacity":{"value":1},"strokeOpacity":{"value":1}}}}}}}},
{"data":{"values":[{}]},"mark":{"type":"text","text":"D","fontSize":17,"align":"left","baseline":"middle"},"encoding":{"x":{"datum":0.00032,"type":"quantitative","scale":{"type":"log","domain":[0.0012,10.5],"nice":false},"axis":{"values":[0.0014,0.01,0.1,1,10],"format":"~g","labelExpr":"datum.value < 0.005 ? '0' : datum.label","title":"[NFA], mM","titlePadding":3}},"y":{"datum":1.2,"type":"quantitative","scale":{"domain":[-0.02,1.053],"nice":false,"zero":false},"axis":{"values":[0,0.2,0.4,0.6,0.8,1],"format":".1f","title":"I/Iₘₐₓ","titlePadding":1}}}},
{"data":{"values":[{}]},"mark":{"type":"text","text":"//","fontSize":10,"align":"center","baseline":"middle"},"encoding":{"x":{"datum":0.0031,"type":"quantitative","scale":{"type":"log","domain":[0.0012,10.5],"nice":false},"axis":{"values":[0.0014,0.01,0.1,1,10],"format":"~g","labelExpr":"datum.value < 0.005 ? '0' : datum.label","title":"[NFA], mM","titlePadding":3}},"y":{"datum":0.855,"type":"quantitative","scale":{"domain":[-0.02,1.053],"nice":false,"zero":false},"axis":{"values":[0,0.2,0.4,0.6,0.8,1],"format":".1f","title":"I/Iₘₐₓ","titlePadding":1}}}},
{"data":{"values":[{}]},"mark":{"type":"text","text":"//","fontSize":10,"align":"center","baseline":"middle"},"encoding":{"x":{"datum":0.0031,"type":"quantitative","scale":{"type":"log","domain":[0.0012,10.5],"nice":false},"axis":{"values":[0.0014,0.01,0.1,1,10],"format":"~g","labelExpr":"datum.value < 0.005 ? '0' : datum.label","title":"[NFA], mM","titlePadding":3}},"y":{"datum":0.18,"type":"quantitative","scale":{"domain":[-0.02,1.053],"nice":false,"zero":false},"axis":{"values":[0,0.2,0.4,0.6,0.8,1],"format":".1f","title":"I/Iₘₐₓ","titlePadding":1}}}},
{"data":{"values":[{}]},"mark":{"type":"text","text":"//","fontSize":10,"align":"center","baseline":"middle"},"encoding":{"x":{"datum":0.0023,"type":"quantitative","scale":{"type":"log","domain":[0.0012,10.5],"nice":false},"axis":{"values":[0.0014,0.01,0.1,1,10],"format":"~g","labelExpr":"datum.value < 0.005 ? '0' : datum.label","title":"[NFA], mM","titlePadding":3}},"y":{"datum":-0.008,"type":"quantitative","scale":{"domain":[-0.02,1.053],"nice":false,"zero":false},"axis":{"values":[0,0.2,0.4,0.6,0.8,1],"format":".1f","title":"I/Iₘₐₓ","titlePadding":1}}}}
],
"resolve":{"scale":{"shape":"independent","fill":"independent"}}}
]}
]
}
